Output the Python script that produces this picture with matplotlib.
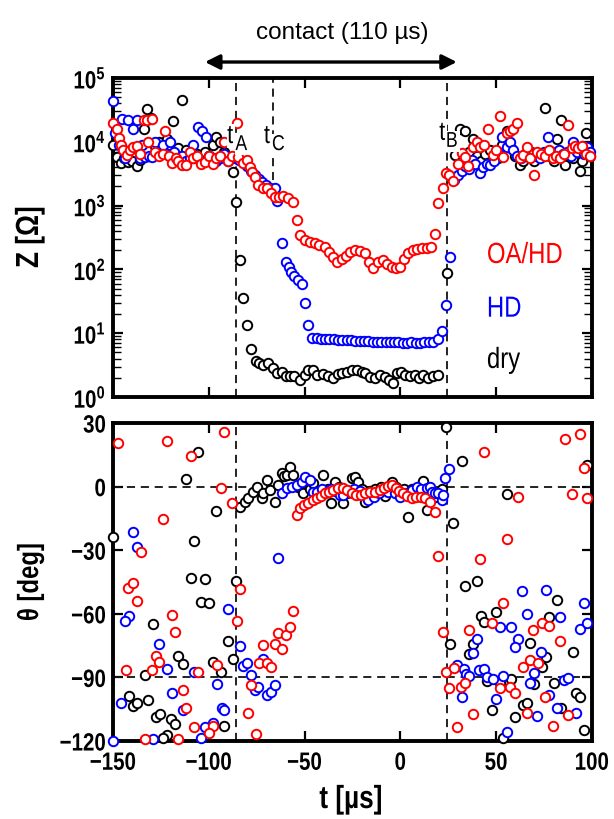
import matplotlib
matplotlib.use("Agg")
import matplotlib.pyplot as plt
from matplotlib.patheffects import AbstractPathEffect
from matplotlib.transforms import Affine2D
import numpy as np

FONT = "Liberation Sans"
plt.rcParams['font.family'] = [FONT, 'DejaVu Sans']
plt.rcParams['mathtext.fontset'] = 'custom'
plt.rcParams['mathtext.rm'] = FONT
plt.rcParams['mathtext.bf'] = FONT + ':bold'


class Squeeze(AbstractPathEffect):
    """Draw text narrower (like a condensed face), keeping its alignment."""
    def __init__(self, sx=0.82, align=0.0):
        super().__init__()
        self.sx = sx
        self.align = align

    def draw_path(self, renderer, gc, tpath, affine, rgbFace=None):
        ext = tpath.get_extents()
        shift = (1 - self.sx) * ext.x1 * self.align
        aff = Affine2D().scale(self.sx, 1).translate(shift, 0) + affine
        renderer.draw_path(gc, tpath, aff, rgbFace)


# ---------------- data: impedance |Z| ----------------
dry_tz = [-150, -148, -146, -144, -142, -140, -137.6, -136, -134, -132, -130, -128, -126, -124, -122, -120,
          -118.5, -116, -114, -112, -110, -108, -106, -104, -102, -100, -98, -96, -94, -92, -90, -87.5,
          -85.8, -83.7, -82.3, -79.9, -78.1, -75.4, -73.6, -71.5, -68.9, -66.3, -64.2, -62, -59.7, -57.6,
          -55.5, -52.4, -49.8, -48, -45.8, -43.4, -40.2, -37.6, -35, -32.4, -30.2, -28, -25.4, -22.8, -20.2,
          -18.5, -15.9, -13.3, -10.6, -8, -5.8, -4, -1.9, 0.1, 2.4, 5, 7.6, 9.9, 12, 14.6, 17.2, 19.8, 24.2,
          28.5, 31.1, 33.7, 36, 38, 40, 42, 44, 46.8, 49, 51, 53, 55.5, 58, 60, 62.4, 64, 66, 68, 70, 72,
          75.5, 78, 80, 81.6, 83.8, 86, 88, 90, 92, 93.7, 95, 97, 99]
dry_z = [8900, 5800, 4600, 5500, 4800, 5000, 4100, 5200, 16000, 33000, 24000, 8500, 10000, 7000, 11000, 9000,
         21000, 8000, 45000, 7500, 6500, 5500, 6500, 5000, 7000, 6000, 9000, 12000, 10000, 7000, 5500, 3300,
         1150, 140, 35, 13.4, 5.6, 3.67, 3.37, 3.2, 3.37, 2.8, 2.4, 2.45, 2.16, 2.1,
         2.1, 1.85, 2.2, 2.65, 2.6, 2.25, 2.3, 2.1, 2.0, 2.3, 2.4, 2.5, 2.65, 2.6, 2.5,
         2.35, 2.08, 2.0, 2.2, 2.05, 1.85, 1.67, 2.35, 2.5, 2.2, 2.1, 2.2, 2.0, 2.2, 2.0, 2.1, 2.2, 87,
         6200, 16000, 15000, 7000, 11000, 6000, 5000, 6500, 7400, 6000, 5500, 9000, 14500, 8000, 6000, 4300,
         5000, 6000, 7000, 5000, 6000, 34000, 6000, 5000, 11000, 22000, 4300, 6000, 5500, 7000, 3500, 5000,
         13500, 6000]

hd_tz = [-149.8, -149, -147, -145.5, -143.5, -142, -139.4, -137.6, -136, -135, -133.3, -131, -129.8, -128,
         -126, -124, -122, -120, -118, -116, -114, -112, -110, -108, -105.5, -103.7, -101.5, -100, -98, -96,
         -94, -92, -90, -88,
         -86, -84, -82, -80, -78, -76, -74, -72, -70, -68, -65.4, -64.5, -62, -59.7, -58.3, -57, -55.4,
         -53.5, -51.5, -49.8, -48, -46, -43.7, -41.5, -39.2, -37, -34.7, -32.5, -30.2, -28, -25.7, -23.5,
         -21.2, -19, -16.7, -14.5, -12.2, -10, -7.7, -5.5, -3.2, -1, 1.3, 3.5, 5.8, 8, 10.3, 12.5, 14.8, 17,
         19.8, 22, 23.8, 25.9,
         28, 30, 32, 34, 36, 37.2, 39, 41.5, 43, 45, 46.8, 49, 51, 52.9, 55.5, 57, 59, 61, 63, 65, 67, 69,
         71, 73, 75, 77.2, 79, 81, 83, 85, 87, 89, 90.2, 92, 94, 96, 97.2, 99]
hd_z = [43000, 13500, 9000, 23000, 5500, 22000, 16000, 22000, 5500, 8900, 5800, 6000, 5800, 10000,
        7000, 9000, 6500, 10000, 7000, 5500, 6000, 5000, 5500, 9000, 17000, 14500, 12000, 6000, 5500, 5000,
        5500, 6500, 5000, 5500,
        5500, 5200, 4800, 4200, 3500, 3000, 2600, 2300, 2100, 1900, 1900, 1200, 260, 132, 110, 92, 78,
        68, 60, 30, 13.4, 8.5, 8.3, 8.2, 8.2, 8.1, 8.0, 7.9, 7.8, 7.8, 7.7, 7.6,
        7.6, 7.5, 7.5, 7.4, 7.4, 7.3, 7.3, 7.2, 7.2, 7.2, 7.1, 7.1, 7.2, 7.1, 7.1, 7.2, 7.2, 7.4,
        8.0, 11, 28, 158,
        2500, 3000, 3500, 4200, 3800, 5200, 4500, 3200, 4000, 4500, 4300, 5000, 7000, 12000, 8400, 10000,
        7500, 6000, 5500, 6500, 7000, 6500, 6000, 5500, 7000, 12000, 7000, 6000, 7500, 6500, 7000, 6000,
        10000, 7000, 8000, 6500, 8400, 7000]

oa_tz = [-150, -148, -147, -146, -144.6, -142.9, -141, -139.4, -137.6, -136, -134, -132, -131.6, -129.8,
         -128, -126, -124, -123, -121, -119.4, -117, -116, -114, -112, -110, -108, -106, -104, -102, -100,
         -98, -96, -94, -92, -90, -88, -85.5,
         -84.6, -82.2, -79.9, -78.5, -77.6, -75.9, -74.2, -71.9, -69.8, -67.7, -65.4, -63.2, -61.1, -58.5,
         -55.9, -54.1, -52.4, -49.8, -47.2, -44.6, -42.3, -39.4, -37.1, -35, -32.9, -30.5, -28.5, -26.3,
         -23.7, -21.1, -18.5, -16.2, -14.1, -11.5, -8.9, -6.8, -4.6, -2.3, -0.2, 1.9, 4.1, 6.7, 8.8, 11.1,
         13.7, 15.8, 18.1, 19.8, 22.1, 23.8, 25.5, 27.6,
         30, 32, 33.7, 35.4, 37.7, 39.8, 41.5, 43.6, 45.9, 48.5, 50, 52, 53.7, 55.5, 57, 59, 61, 62.5,
         64.2, 65.9, 67.5, 69.7, 71.5, 73.5, 75.5, 77.5, 79.5, 81.5, 83.5, 85.5, 87.6, 89.5, 91, 93, 95,
         97, 99]
oa_z = [19500, 16000, 11300, 9000, 7400, 6200, 7500, 8400, 8500, 6500, 22000, 22000, 10000, 23000,
        7000, 6000, 6500, 15000, 6000, 4600, 5500, 5000, 4300, 4300, 7000, 5500, 6000, 4500, 4800, 6000,
        4500, 5500, 6000, 10000, 5000, 6000, 20000,
        5800, 4600, 5200, 4000, 3300, 2800, 2100, 1900, 1900, 1550, 1380, 1380, 1420, 1300,
        1150, 590, 340, 290, 270, 255, 240, 228, 190, 158, 132, 145, 160, 190,
        200, 195, 178, 132, 105, 132, 140, 121, 110, 105, 108, 145, 182, 200, 205, 215,
        218, 228, 357, 1100, 1870, 3200, 3000, 2400,
        4500, 6600, 5800, 4100, 8400, 10000, 8400, 8900, 16000, 6200, 7500, 25000, 5800, 13500, 14500,
        16000, 19500, 5500, 6200, 8400, 5500, 3000, 7000, 6500, 6000, 7500, 5500, 6000, 5500, 6500,
        18000, 8000, 8500, 8000, 8500, 6500, 6000]

# ---------------- data: phase theta ----------------
dry_tp = [-150, -105.8, -112, -96, -107.6, -109.5, -102, -103.8, -99.7, -129.3, -89.8, -87.5, -116, -113.6,
          -98, -93.6, -133.3, -141.5, -139.4, -137.3, -131.6, -127.5, -125.5, -119.7, -117.6, -121.7, -123.7,
          -91.9, -85.8,
          -83.7, -81.1, -79.4, -76.8, -75, -72.4, -71.5, -69.8, -68.1, -65.4, -63.7, -62, -60.5, -59.4,
          -57.6, -55.9, -53.3, -51, -49, -47, -45.4, -43, -40.2, -38, -36, -34.1, -32, -29.8, -28, -25.4,
          -23.7, -22, -20, -18.5, -16, -13, -10, -8, -6, -4.6, -2, 0, 2, 4.1, 6, 8, 10, 12, 13.7, 15.4,
          18, 20, 22,
          23.8, 32, 27.6, 33.7, 39.8, 41.9, 43.6, 49.7, 55.5, 25.9, 38, 36, 67.6, 76, 89.9, 73.7, 45.4,
          52, 58, 69.7, 80.2, 91.6, 93.7, 63.8, 65.9, 47.6, 83.7, 59.8, 53.7, 95.8, 81.6, 77.5, 97.5]
dry_th = [-24, 16.5, 3.4, -11.5, -25.5, -43, -43.6, -54.3, -55, -64.8, -72.7, -81.5, -80, -83.8,
          -82.6, -87.3, -88.9, -98.8, -103.5, -102, -100.7, -108.8, -107.3, -109.8, -112, -117, -118.8,
          -113, -44.4,
          -9.5, -7.1, -5.5, -2.4, 0, -5.5, -3.2, 3.1, -1.6, -7.1, 0.8, 6.3, 5, 5.5,
          9.4, 5.5, 0, -3, 2, -1, 1.6, -2, 5.5, -1, -7.9, 2.3, 0, -7.9, -3, 3.9,
          4.7, 2, -1, -7.1, -2, -1, 0, -4.4, -1, 2.3, 0, -2, -1, -14.5, -1, -2, 0, 2.8, -11, -1.6,
          -4.8, -3, -1,
          28, 12, -17, -46.9, -44.4, -60.9, -64, -59.3, -3.7, -74.2, -74.2, -79, -73.9, -80.2, -77.9, -85,
          -91.6, -92.8, -90.9, -93.1, -92.5, -97.2, -99.4, -103, -102, -105.4, -104.6, -108.8, -118.7,
          -114.8, -53.5, -61.3, 10.2]

hd_tp = [-139.8, -137.6, -141.5, -143.7, -89.8, -125.8, -121.7, -107.6, -95.5, -119.4, -145.8, -113.6,
         -93.3, -92, -102, -97.6, -129.3, -103.8, -150,
         -83.7, -82.3, -80, -78, -75.9, -74.2, -71.9, -69.8, -67.7, -65.4, -63.7,
         -62, -59.4, -56.7, -54.1, -51.5, -49.8, -47.2, -45.4, -43.7, -41, -38.5, -36, -34, -31.5, -29.8,
         -27, -24, -21, -18.5, -16.8, -14, -11, -8, -6.3, -3, -0.2, 3, 5.9, 8.5, 11, 13.7, 15.4, 16.3,
         18.1, 19.8, 21.5, 22.5, 23.3, 25.5,
         63.6, 75.8, 95.8, 65.9, 52, 57.7, 83.3, 93.7, 97.5, 39.8, 38, 61.5, 59.8, 73.2, 69.7, 29.7, 33.4,
         34.2, 36, 41.2, 43.6, 45.4, 48.2, 53.7, 67.6, 85.4, 87.6, 32, 49.7, 77.7, 81.9, 91.6, 71.5, 55.8]
hd_th = [-21.3, -28.6, -60.9, -63.4, -57.9, -74.2, -86.2, -87.3, -93.1, -97.2, -102, -105.4,
         -104.6, -105.5, -113.5, -111.7, -119.2, -118.7, -120,
         -75, -84.6, -83, -89, -96, -94.4, -81.5, -98.3, -96.7, -93.6, -33.5,
         -3.2, -0.8, -0.3, 0.8, 2.3, 4.7, 3.1, -2.4, -2.4, -1, -2.4, -1, -2, -4, -4,
         -2, -1, -2, -4, -6.3, -5, -3, -0.8, -2.4, -3, -4.8, -3, -1.6, 0, -1, -0.8, 0, -2.4,
         -3.2, -3.2, -6.3, -4, 3.9, 8.2,
         -49.2, -48.8, -54.8, -60.1, -66, -66.4, -61.6, -67.3, -64.5, -72, -78.6, -72, -75.8, -77.9, -87.8,
         -84.2, -86.2, -88.4, -89.3, -86.5, -86.2, -90, -90.7, -89.3, -92.5, -91.2, -90.4, -99.4, -100.2,
         -98.3, -104.6, -106.9, -108.2, -115.6]

oa_tp = [-147.6, -121.7, -109.5, -91.9, -93.6, -88.1, -123.7, -135.5, -142, -139.4, -137.6, -119.4, -117.6,
         -127.5, -125.8, -129.8, -143.4, -105.5, -95.9, -113.6, -111.9, -107.6, -97.6, -99.7, -133.3, -116,
         -85.5, -83.7, -79.4, -78, -75.4, -74, -71.5, -69.8, -67.7, -65.4, -63.7, -62, -59.7, -57.6, -56,
         -54.1, -52.4, -50.3, -48.1, -45.8, -43.7, -41.6, -39.4, -37.1, -35, -32.4, -29.8, -27.7, -25.4,
         -23.2, -20.7, -18.5, -15.9, -13.3, -10.6, -8.6, -6.3, -4.6, -2.5, -0.6, 1.5, 3.6, 5.9, 8.1, 10.6,
         12.8, 15.4, 18.1, 19.8, 22.1,
         43.6, 86, 93.7, 95.8, 61.5, 89.4, 97.5, 55.8, 41.8, 53.7, 48, 73.7, 77.5, 69.4, 36, 83.3, 63.8,
         67.6, 72, 23.8, 28, 25.5, 31.5, 33.7, 52, 57.2, 59.8, 75.5, 65.9, 87.6, 37.7, 29.7, 79.8]
oa_th = [20.7, 21.5, 14.6, 25.9, -0.8, -7.9, -15.4, -30.7, -48, -45.6, -53.8, -60.6, -68.7,
         -79.9, -82.6, -86.5, -86.5, -87.3, -84.2, -95.9, -104.6, -113.3, -112.9, -116.4, -119.2, -119.2,
         -63.3, -48.5, -107, -93.6, -116.7, -83, -74.7, -83, -85, -74, -69, -76.8, -70, -66.4, -58.5,
         -13.4, -10.2, -8.7, -7.9, -6.3, -5.5, -4.4, -3.2, -2.4, -1.6, -0.8, -0.8, -1.6, -3.2,
         -4, -4, -3.2, -2.4, -2.4, -1.6, -0.8, 0.3, 0.8, -0.8, -1.9, -2.9, -4.4, -5.5, -4.8, -4.8,
         -5.5, -7.1, -11.8, -32.7, -68.4,
         16.5, 22.3, 25, 8.6, -4.8, -3.6, -5.2, -24.6, -34.3, -55, -64.2, -64.5, -65.8, -67.6, -67.6, -72.7,
         -85, -81.8, -83, -87.3, -85.7, -95.1, -94.4, -92.5, -95.1, -94.4, -97.2, -99.4, -106.7, -107.7,
         -107.3, -113.5, -112.9]

t_A, t_B, t_C = -86, 24.5, -66.6
xticks = [-150, -100, -50, 0, 50, 100]
zticks = [1, 10, 100, 1000, 10000, 100000]
thticks = [30, 0, -30, -60, -90, -120]

# ---------------- figure ----------------
fig = plt.figure(figsize=(6.14, 8.19), dpi=100)
ax1 = fig.add_axes([0.184, 0.5153, 0.780, 0.3895])
ax2 = fig.add_axes([0.184, 0.0952, 0.780, 0.3883])

mk = dict(ls='none', marker='o', ms=6.8, mew=1.4, mfc='white')
for ax, data in ((ax1, [(dry_tz, dry_z, 'black'), (hd_tz, hd_z, '#0000ff'), (oa_tz, oa_z, '#ff0000')]),
                 (ax2, [(dry_tp, dry_th, 'black'), (hd_tp, hd_th, '#0000ff'), (oa_tp, oa_th, '#ff0000')])):
    for t, v, c in data:
        ax.plot(t, v, mec=c, zorder=3, clip_on=False, **mk)

dash = dict(color='#111111', lw=1.3, ls=(0, (4.5, 3.2)), zorder=2)
ax1.set_yscale('log')
ax1.set_ylim(1, 1e5)
ax1.set_xlim(-150, 100)
ax1.axvline(t_A, **dash)
ax1.axvline(t_B, **dash)
ax1.plot([t_C, t_C], [1.5e3, 1e5], **dash)

ax2.set_ylim(-120, 30)
ax2.set_xlim(-150, 100)
ax2.axvline(t_A, **dash)
ax2.axvline(t_B, **dash)
ax2.axhline(0, **dash)
ax2.axhline(-90, **dash)

for ax in (ax1, ax2):
    for s in ax.spines.values():
        s.set_linewidth(2.8)
    ax.tick_params(which='major', direction='in', length=7.5, width=1.6, top=True, right=True,
                   labelsize=18, pad=5)
    ax.tick_params(which='minor', direction='in', length=6, width=1.0, top=True, right=True)
    ax.set_xticks(xticks)
ax1.tick_params(axis='x', labelbottom=False)
ax1.set_yticks(zticks)
ax1.set_yticklabels([r'$\mathbf{10^{%d}}$' % int(np.log10(v)) for v in zticks])
ax1.yaxis.set_minor_locator(matplotlib.ticker.LogLocator(base=10, subs=np.arange(2, 10)))
ax1.yaxis.set_minor_formatter(matplotlib.ticker.NullFormatter())
ax2.set_yticks(thticks)
ax2.set_yticklabels([('\u2212%d' % -v) if v < 0 else '%d' % v for v in thticks])
ax2.set_xticklabels([('\u2212%d' % -v) if v < 0 else '%d' % v for v in xticks])
ax2.tick_params(axis='x', pad=7)
for lab in ax2.get_xticklabels():
    lab.set_fontweight('bold')
    lab.set_path_effects([Squeeze(0.82, 0.5)])
for lab in ax2.get_yticklabels() + ax1.get_yticklabels():
    lab.set_fontweight('bold')
    lab.set_path_effects([Squeeze(0.82, 1.0)])

# axis titles
fig.text(30 / 614, 1 - 237 / 819, 'Z [\u03a9]', fontsize=23, fontweight='bold', rotation=90,
         ha='center', va='center', path_effects=[Squeeze(0.82, 0.5)])
fig.text(30 / 614, 1 - 582 / 819, '\u03b8 [deg]', fontsize=21, fontweight='bold', rotation=90,
         ha='center', va='center', path_effects=[Squeeze(0.82, 0.5)])
fig.text(351 / 614, 1 - 800 / 819, 't [\u00b5s]', fontsize=23, fontweight='bold',
         ha='center', va='center', path_effects=[Squeeze(0.82, 0.5)])

# time markers: "t" with a large subscript letter, on white so the dashed line breaks
tlab = dict(zorder=5, va='baseline', ha='left', bbox=dict(fc='white', ec='none', pad=0.0),
            path_effects=[Squeeze(0.82, 0.0)])
for tx, ty, sx, sy, letter in ((-90.4, 10 ** 3.98, -86.1, 10 ** 3.87, 'A'),
                               (-71.2, 10 ** 3.98, -67.0, 10 ** 3.87, 'C'),
                               (20.3, 10 ** 4.03, 23.8, 10 ** 3.92, 'B')):
    ax1.text(tx, ty, 't', fontsize=19, **tlab)
    ax1.text(sx, sy, letter, fontsize=15.5, **tlab)

leg = dict(fontsize=21, ha='left', va='baseline', path_effects=[Squeeze(0.82, 0.0)])
ax1.text(45.2, 10 ** 2.10, 'OA/HD', color='#ff0000', **leg)
ax1.text(45.2, 10 ** 1.258, 'HD', color='#0000ff', **leg)
ax1.text(45.2, 10 ** 0.455, 'dry', color='black', **leg)

ax1.annotate('', xy=(-102, 1.05), xytext=(29.5, 1.05), xycoords=('data', 'axes fraction'),
             textcoords=('data', 'axes fraction'),
             arrowprops=dict(arrowstyle='<|-|>', lw=2.4, color='black', mutation_scale=22, shrinkA=0, shrinkB=0))
ax1.text(-30.4, 1.14, 'contact (110 \u00b5s)', transform=ax1.get_xaxis_transform(),
         fontsize=17.5, ha='center', va='center')

fig.savefig('out.png', dpi=100)
